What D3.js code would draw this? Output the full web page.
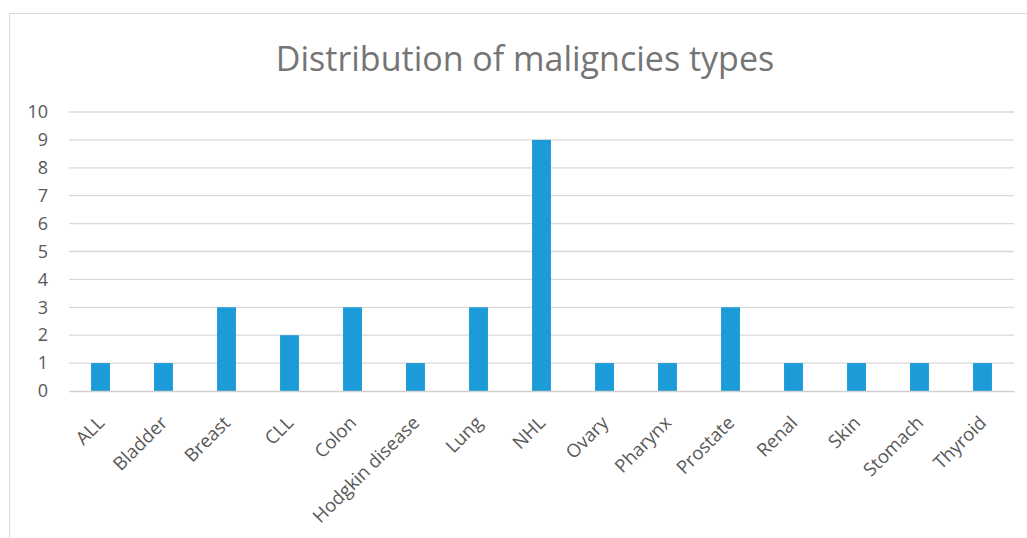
<!DOCTYPE html>
<html>
<head>
<meta charset="utf-8">
<script src="https://cdn.jsdelivr.net/npm/d3@7"></script>
<style>
  html, body { margin: 0; padding: 0; background: #fff; }
  #chart { width: 1027px; height: 538px; }
</style>
</head>
<body>
<div id="chart"></div>
<script>
const categories = ["ALL", "Bladder", "Breast", "CLL", "Colon", "Hodgkin disease", "Lung", "NHL",
  "Ovary", "Pharynx", "Prostate", "Renal", "Skin", "Stomach", "Thyroid"];
const counts = [1, 1, 3, 2, 3, 1, 3, 9, 1, 1, 3, 1, 1, 1, 1];
const yTicks = [0, 1, 2, 3, 4, 5, 6, 7, 8, 9, 10];
const title = "Distribution of maligncies types";

const width = 1027, height = 538;
const margin = { top: 112, right: 13, bottom: 147, left: 69 };
const innerWidth = width - margin.left - margin.right;
const innerHeight = height - margin.top - margin.bottom;
const font = "'Open Sans', 'Liberation Sans', sans-serif";

const svg = d3.select("#chart").append("svg")
  .attr("width", width)
  .attr("height", height);

// chart frame (only left/top edges are visible)
svg.append("path")
  .attr("d", `M9.5,${height} V13.5 H${width}`)
  .attr("fill", "none")
  .attr("stroke", "#d9d9d9");

svg.append("text")
  .attr("x", 525)
  .attr("y", 71)
  .attr("text-anchor", "middle")
  .attr("font-family", font)
  .attr("font-size", 34)
  .attr("fill", "#757575")
  .text(title);

const g = svg.append("g")
  .attr("transform", `translate(${margin.left},${margin.top})`);

const x = d3.scaleBand()
  .domain(categories)
  .range([0, innerWidth])
  .paddingInner(0.7)
  .paddingOuter(0.35);

const y = d3.scaleLinear()
  .domain([0, 10])
  .range([innerHeight, 0]);

// gridlines
g.append("g")
  .selectAll("line")
  .data(yTicks.filter((t) => t > 0))
  .join("line")
  .attr("x1", 0)
  .attr("x2", innerWidth)
  .attr("y1", (d) => y(d))
  .attr("y2", (d) => y(d))
  .attr("stroke", "#d9d9d9")
  .attr("stroke-width", 1.3);

// y labels
g.append("g")
  .call(d3.axisLeft(y).tickValues(yTicks).tickSize(0).tickPadding(21))
  .call((s) => s.select(".domain").remove())
  .selectAll("text")
  .attr("font-family", font)
  .attr("font-size", 18)
  .attr("fill", "#595959");

// bars
g.selectAll("rect.bar")
  .data(categories)
  .join("rect")
  .attr("class", "bar")
  .attr("x", (d) => x(d))
  .attr("width", x.bandwidth())
  .attr("y", (d, i) => y(counts[i]))
  .attr("height", (d, i) => innerHeight - y(counts[i]))
  .attr("fill", "#1b9bd8");

// x axis
const xAxis = g.append("g")
  .attr("transform", `translate(0,${innerHeight})`)
  .call(d3.axisBottom(x).tickSize(0).tickPadding(0));
xAxis.select(".domain").attr("stroke", "#d0d0d0").attr("stroke-width", 1.5);
xAxis.selectAll("text")
  .attr("font-family", font)
  .attr("font-size", 18.5)
  .attr("fill", "#595959")
  .attr("text-anchor", "end")
  .attr("dy", "0")
  .attr("transform", "translate(5,33) rotate(-45)");
</script>
</body>
</html>
